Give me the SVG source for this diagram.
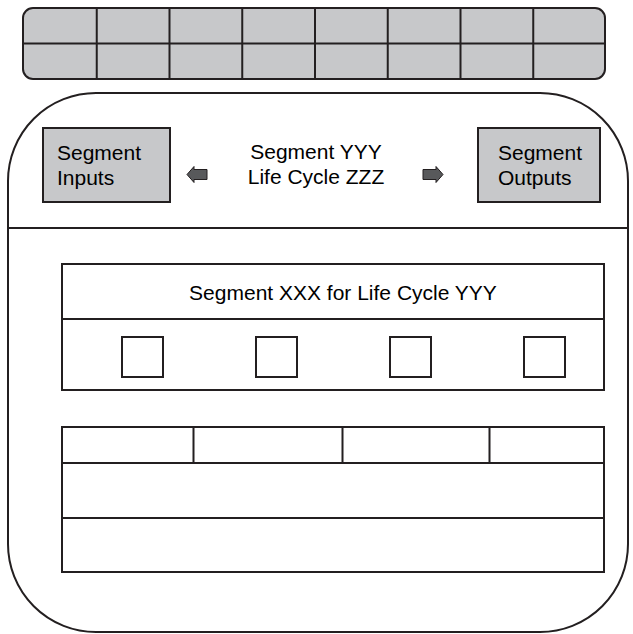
<svg xmlns="http://www.w3.org/2000/svg" width="633" height="634" viewBox="0 0 633 634">
<style>
.ln{stroke:#231f20;fill:none;stroke-width:2}
.gray{fill:#c7c8ca;stroke:#231f20;stroke-width:2}
.t{font-family:"Liberation Sans",Arial,sans-serif;font-size:21px;fill:#000}
.arr{fill:#58595b;stroke:#231f20;stroke-width:1}
</style>
<rect width="633" height="634" fill="#fff"/>
<g id="top-bar">
<rect x="23" y="8" width="582" height="71" rx="10" class="gray" stroke-width="2.5"/>
<path class="ln" d="M23,43.5H605M96.75,8V79M169.5,8V79M242.25,8V79M315,8V79M387.75,8V79M460.5,8V79M533.25,8V79"/>
</g>
<g id="outer-frame">
<rect x="8" y="93" width="620" height="539" rx="88" ry="88" class="ln"/>
<line x1="8" y1="228" x2="628" y2="228" class="ln"/>
</g>
<g id="segment-inputs">
<rect x="43" y="128" width="127" height="74" class="gray"/>
<text class="t" x="57" y="160">Segment</text>
<text class="t" x="57" y="185">Inputs</text>
</g>
<g id="segment-title">
<text class="t" x="316" y="159" text-anchor="middle">Segment YYY</text>
<text class="t" x="316" y="184" text-anchor="middle">Life Cycle ZZZ</text>
</g>
<g id="segment-outputs">
<rect x="478" y="128" width="122" height="74" class="gray"/>
<text class="t" x="498" y="160">Segment</text>
<text class="t" x="498" y="185">Outputs</text>
</g>
<g id="connectors">
<path class="arr" d="M187,174.5L194,166.5V169.5H207V179.5H194V182.5Z"/>
<path class="arr" d="M443,174.5L436,166.5V169.5H423V179.5H436V182.5Z"/>
</g>
<g id="segment-xxx">
<rect x="62" y="264" width="542" height="126" class="ln"/>
<line x1="62" y1="319" x2="604" y2="319" class="ln"/>
<text class="t" x="343" y="300" text-anchor="middle">Segment XXX for Life Cycle YYY</text>
<rect x="122" y="337" width="41" height="40" class="ln"/>
<rect x="256" y="337" width="41" height="40" class="ln"/>
<rect x="390" y="337" width="41" height="40" class="ln"/>
<rect x="524" y="337" width="41" height="40" class="ln"/>
</g>
<g id="bottom-table">
<rect x="62" y="427" width="542" height="145" class="ln"/>
<line x1="62" y1="463" x2="604" y2="463" class="ln"/>
<line x1="62" y1="518" x2="604" y2="518" class="ln"/>
<path class="ln" stroke-width="1.3" d="M193.5,427V463M342.5,427V463M489.5,427V463"/>
</g>
</svg>
